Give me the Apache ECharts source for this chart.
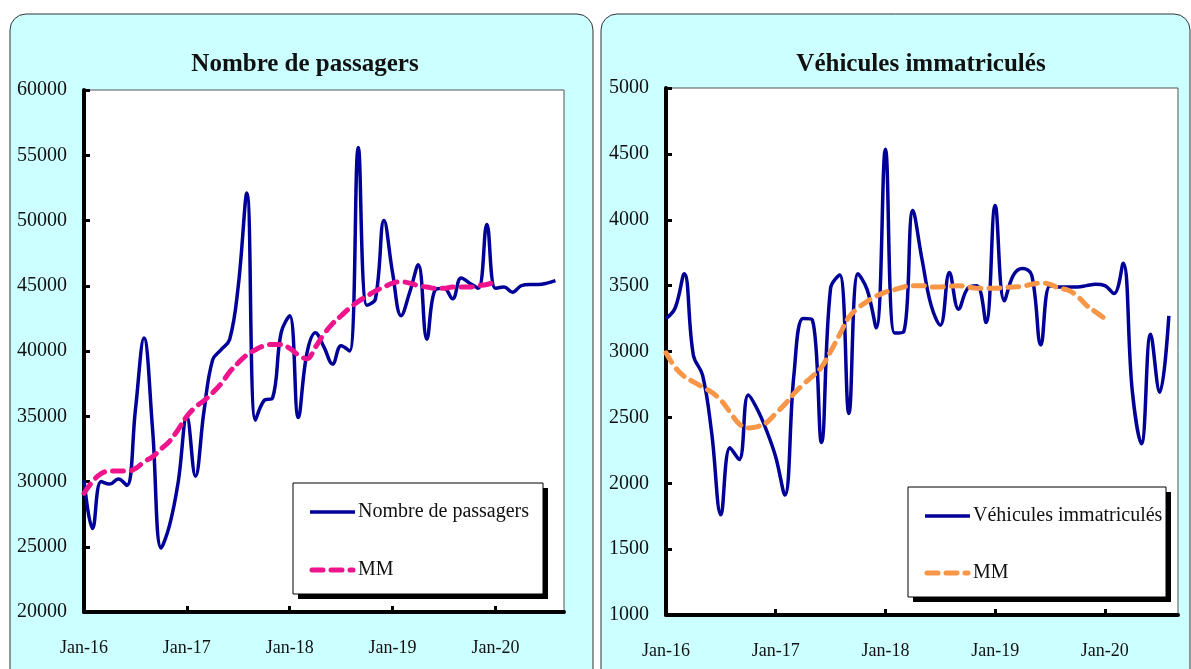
<!DOCTYPE html>
<html>
<head>
<meta charset="utf-8">
<script src="https://cdn.jsdelivr.net/npm/echarts@6/dist/echarts.min.js"></script>
<style>
html,body{margin:0;padding:0;background:#fff;}
#c{width:1191px;height:669px;}
</style>
</head>
<body>
<div id="c"></div>
<script>
// ---- data ----
const monthNames = ['Jan','Feb','Mar','Apr','May','Jun','Jul','Aug','Sep','Oct','Nov','Dec'];
const years = ['16','17','18','19','20'];
const categories = [];
years.forEach(y => monthNames.forEach(m => categories.push(m + '-' + y)));
categories.length = 57; // Jan-16 .. Sep-20

const tickLabels = ['Jan-16','Jan-17','Jan-18','Jan-19','Jan-20'];

const passagers = [30100,26400,30000,29800,30200,29700,35500,41000,34000,24900,
  26700,30000,35000,30400,35400,39300,40100,40900,45000,52100,
  34700,36200,36400,41400,42700,34900,39800,41400,40300,39000,
  40400,40000,55600,43500,44000,50000,46000,42700,44500,46600,
  40900,44700,44800,44000,45600,45200,44800,49700,44800,44900,
  44500,45000,45100,45100,45200,45400];
const passagersMM = [29100,30000,30600,30800,30800,30800,31000,31500,31900,32500,
  33100,34000,35000,35700,36200,36800,37500,38400,39100,39700,
  40100,40400,40500,40500,40200,39700,39400,40300,41300,42100,
  42700,43300,43800,44200,44600,44900,45200,45300,45200,45000,
  44900,44800,44800,44900,44900,44900,45000,45100,45300];

const vehicules = [3250,3330,3590,2970,2820,2380,1760,2270,2180,2670,
  2560,2400,2200,1910,2830,3250,3240,2310,3480,3580,
  2530,3590,3470,3180,4535,3140,3150,4070,3700,3350,
  3200,3600,3320,3480,3500,3220,4108,3385,3580,3630,
  3580,3050,3500,3490,3490,3490,3500,3510,3500,3440,
  3670,2700,2300,3130,2690,3270];
const vehiculesMM = [2990,2880,2810,2770,2730,2690,2630,2540,2450,2420,
  2430,2460,2530,2600,2680,2750,2810,2880,3000,3130,
  3260,3330,3380,3420,3450,3470,3490,3500,3500,3490,
  3490,3495,3500,3490,3480,3480,3480,3485,3490,3495,
  3510,3520,3510,3480,3465,3420,3350,3300,3250];

const seriesNames = ['Nombre de passagers', 'Véhicules immatriculés', 'MM'];

// ---- styles ----
const FONT = '"Liberation Serif", "DejaVu Serif", serif';
const TXT = '#111';
const BLUE = '#000099', PINK = '#F0148C', ORANGE = '#F79646';

function xAxisCfg(gi){
  return {
    type:'category', gridIndex:gi, data:categories, boundaryGap:false,
    axisLine:{show:true, onZero:false, lineStyle:{color:'#000', width:4}},
    axisTick:{show:true, inside:true, interval:11, length:6, lineStyle:{color:'#000', width:3}},
    axisLabel:{interval:11, margin:27, fontFamily:FONT, fontSize:18, color:TXT,
      formatter: v => tickLabels.includes(v) ? v : ''},
    splitLine:{show:false}
  };
}
function yAxisCfg(gi, min, max, step){
  return {
    type:'value', gridIndex:gi, min:min, max:max, interval:step,
    axisLine:{show:true, lineStyle:{color:'#000', width:4}},
    axisTick:{show:true, inside:true, length:6, lineStyle:{color:'#000', width:3}},
    axisLabel:{margin:17, fontFamily:FONT, fontSize:20, color:TXT, formatter: v => String(v)},
    splitLine:{show:false}
  };
}
// legend box drawn with graphic elements
function legendBox(x, y, w, h, name1, color2, rowGap){
  const lx = x + 17, lw = 45, tx = lx + lw + 3;
  const y1 = y + 29, y2 = y1 + rowGap;
  return [
    {type:'rect', z:20, shape:{x:x+5, y:y+5, width:w, height:h}, style:{fill:'#000'}},
    {type:'rect', z:21, shape:{x:x, y:y, width:w, height:h}, style:{fill:'#fff', stroke:'#000', lineWidth:1}},
    {type:'line', z:22, shape:{x1:lx, y1:y1, x2:lx+lw, y2:y1}, style:{stroke:BLUE, lineWidth:3.5}},
    {type:'text', z:22, x:tx, y:y1, style:{text:name1, font:'20px ' + FONT, fill:TXT, textAlign:'left', textVerticalAlign:'middle'}},
    {type:'line', z:22, shape:{x1:lx+2, y1:y2, x2:lx+lw-2, y2:y2}, style:{stroke:color2, lineWidth:5, lineDash:[11,8], lineCap:'round'}},
    {type:'text', z:22, x:tx, y:y2, style:{text:seriesNames[2], font:'20px ' + FONT, fill:TXT, textAlign:'left', textVerticalAlign:'middle'}}
  ];
}

const chart = echarts.init(document.getElementById('c'), null, {renderer:'canvas'});
chart.setOption({
  animation:false,
  backgroundColor:'#fff',
  graphic:{elements:[
    {type:'rect', z:-10, shape:{x:10, y:14, width:583, height:672, r:16},
      style:{fill:'#CCFFFF', stroke:'#333', lineWidth:1}},
    {type:'rect', z:-10, shape:{x:601, y:14, width:589, height:672, r:16},
      style:{fill:'#CCFFFF', stroke:'#333', lineWidth:1}},
    {type:'text', z:10, x:305, y:65, style:{text:'Nombre de passagers', font:'bold 25px ' + FONT,
      fill:'#111', textAlign:'center', textVerticalAlign:'middle'}},
    {type:'text', z:10, x:921, y:65, style:{text:'Véhicules immatriculés', font:'bold 25px ' + FONT,
      fill:'#111', textAlign:'center', textVerticalAlign:'middle'}}
  ].concat(
    legendBox(293, 483, 250, 111, seriesNames[0], PINK, 58),
    legendBox(908, 487, 258, 110, seriesNames[1], ORANGE, 57)
  )},
  grid:[
    {left:84, top:90, width:480, height:522, show:true, backgroundColor:'#fff', borderColor:'#555', borderWidth:1},
    {left:666, top:88, width:512, height:527, show:true, backgroundColor:'#fff', borderColor:'#555', borderWidth:1}
  ],
  xAxis:[xAxisCfg(0), xAxisCfg(1)],
  yAxis:[yAxisCfg(0, 20000, 60000, 5000), yAxisCfg(1, 1000, 5000, 500)],
  series:[
    {name:seriesNames[0], type:'line', xAxisIndex:0, yAxisIndex:0, data:passagers,
      smooth:0.4, symbol:'none', lineStyle:{color:BLUE, width:3.5}, itemStyle:{color:BLUE}},
    {name:'MM (passagers)', type:'line', xAxisIndex:0, yAxisIndex:0, data:passagersMM,
      smooth:0.4, symbol:'none', lineStyle:{color:PINK, width:5, type:[11,8], cap:'round'}, itemStyle:{color:PINK}},
    {name:seriesNames[1], type:'line', xAxisIndex:1, yAxisIndex:1, data:vehicules,
      smooth:0.4, symbol:'none', lineStyle:{color:BLUE, width:3.5}, itemStyle:{color:BLUE}},
    {name:'MM (véhicules)', type:'line', xAxisIndex:1, yAxisIndex:1, data:vehiculesMM,
      smooth:0.4, symbol:'none', lineStyle:{color:ORANGE, width:5, type:[11,8], cap:'round'}, itemStyle:{color:ORANGE}}
  ]
});
</script>
</body>
</html>
